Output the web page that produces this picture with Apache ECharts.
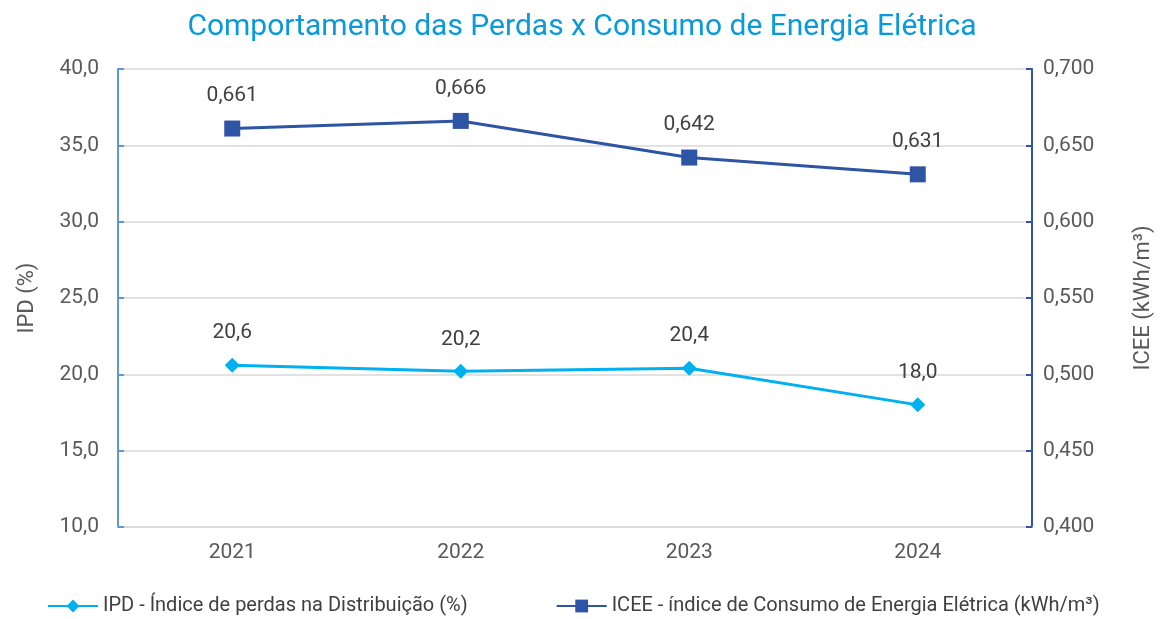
<!DOCTYPE html>
<html><head><meta charset="utf-8">
<script src="https://cdn.jsdelivr.net/npm/echarts@6/dist/echarts.min.js"></script>
<style>html,body{margin:0;padding:0;background:#fff}#c{width:1164px;height:619px}</style>
</head><body><div id="c"></div>
<script>
const categories = ['2021', '2022', '2023', '2024'];
const ipdValues = [20.6, 20.2, 20.4, 18.0];
const iceeValues = [0.661, 0.666, 0.642, 0.631];
const ipdName = 'IPD - Índice de perdas na Distribuição (%)';
const iceeName = 'ICEE - índice de Consumo de Energia Elétrica (kWh/m³)';
const titleText = 'Comportamento das Perdas x Consumo de Energia Elétrica';

const FONT = 'Roboto';
const chart = echarts.init(document.getElementById('c'));
chart.setOption({
  animation: false,
  title: { text: titleText, left: 'center', top: 7,
    textStyle: { color: '#0a9ad9', fontSize: 30, fontWeight: 'normal', fontFamily: FONT } },
  legend: { bottom: -2, left: 42, itemGap: 88, itemWidth: 50, itemHeight: 16,
    textStyle: { color: '#404040', fontSize: 20, fontFamily: FONT },
    data: [ipdName, iceeName] },
  grid: { left: 118, right: 132, top: 69, bottom: 92 },
  xAxis: { type: 'category', data: categories, boundaryGap: true,
    axisLine: { lineStyle: { color: '#d9d9d9', width: 1.5 } },
    axisTick: { show: false },
    axisLabel: { color: '#595959', fontSize: 21, fontFamily: FONT, margin: 15 } },
  yAxis: [
    { type: 'value', min: 10, max: 40, interval: 5, name: 'IPD (%)', nameLocation: 'middle', nameGap: 80,
      nameTextStyle: { color: '#595959', fontSize: 22, fontFamily: FONT },
      axisLine: { show: true, lineStyle: { color: '#5b9bd5', width: 2 } },
      axisTick: { show: true, inside: true, length: 6, lineStyle: { color: '#5b9bd5', width: 2 } },
      splitLine: { lineStyle: { color: '#d9d9d9', width: 1.5 } },
      axisLabel: { color: '#595959', fontSize: 21, fontFamily: FONT, margin: 19,
        formatter: v => v.toFixed(1).replace('.', ',') } },
    { type: 'value', min: 0.4, max: 0.7, interval: 0.05, name: 'ICEE (kWh/m³)', nameLocation: 'middle', nameGap: 100,
      nameRotate: 90,
      nameTextStyle: { color: '#595959', fontSize: 22, fontFamily: FONT },
      axisLine: { show: true, lineStyle: { color: '#2f55a4', width: 2 } },
      axisTick: { show: true, inside: true, length: 6, lineStyle: { color: '#2f55a4', width: 2 } },
      splitLine: { show: false },
      axisLabel: { color: '#595959', fontSize: 21, fontFamily: FONT, margin: 11,
        formatter: v => v.toFixed(3).replace('.', ',') } }
  ],
  series: [
    { name: ipdName, type: 'line', yAxisIndex: 0, data: ipdValues,
      symbol: 'diamond', symbolSize: 15,
      lineStyle: { color: '#00b0f0', width: 3 }, itemStyle: { color: '#00b0f0' },
      label: { show: true, position: 'top', distance: 14, color: '#404040', fontSize: 21, fontFamily: FONT,
        formatter: p => p.value.toFixed(1).replace('.', ',') } },
    { name: iceeName, type: 'line', yAxisIndex: 1, data: iceeValues,
      symbol: 'rect', symbolSize: 16,
      lineStyle: { color: '#2e54a4', width: 3 }, itemStyle: { color: '#2e54a4' },
      label: { show: true, position: 'top', distance: 14, color: '#404040', fontSize: 21, fontFamily: FONT,
        formatter: p => p.value.toFixed(3).replace('.', ',') } }
  ]
});
</script></body></html>
